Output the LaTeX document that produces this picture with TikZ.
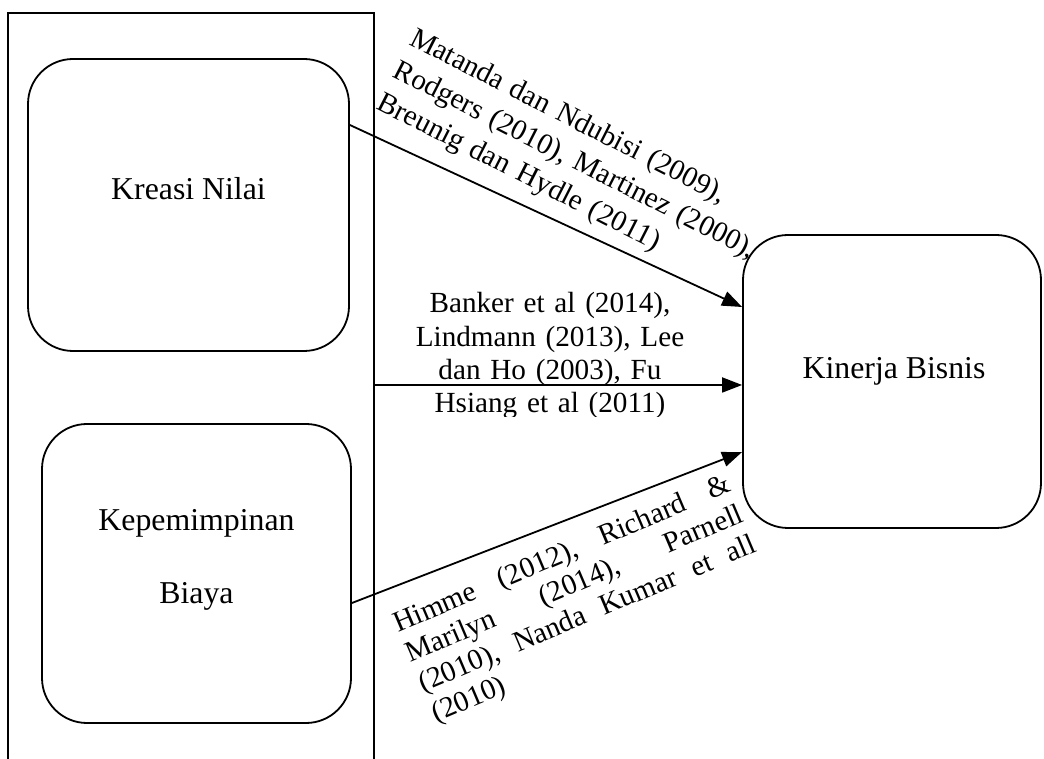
\documentclass[tikz,border=0pt]{standalone}
\usepackage{fontspec}
\setmainfont{Liberation Serif}
\usetikzlibrary{arrows.meta}
\begin{document}
\begin{tikzpicture}[x=1pt,y=1pt,
  frame/.style={draw, line width=1.8pt, inner sep=0pt},
  rbox/.style={draw, line width=1.8pt, rounded corners=45pt, inner sep=0pt},
  boxtext/.style={font=\fontsize{31.8pt}{38pt}\selectfont, inner sep=0pt},
  cite/.style={font=\fontsize{29.2pt}{33.3pt}\selectfont, inner sep=0pt},
  link/.style={line width=1.8pt, -{Triangle[length=20pt,width=15pt]}}]
\clip (0,0) rectangle (1044,758);
\fill[white] (0,0) rectangle (1044,758);
% frame and boxes
\node[frame, minimum width=366pt, minimum height=757pt] (group) at (191,366.5) {};
\node[rbox, minimum width=321pt, minimum height=292pt] (box1) at (188.5,553) {};
\node[rbox, minimum width=309pt, minimum height=299pt] (box2) at (196.5,184.5) {};
\node[rbox, minimum width=298pt, minimum height=293pt] (box3) at (892,376.5) {};
% box texts
\node[boxtext, anchor=base] (t1) at (188.5,558) {Kreasi Nilai};
\node[boxtext, anchor=base, text width=300pt, align=center,
      font=\fontsize{31.8pt}{73pt}\selectfont] (t2) at (196.5,227) {Kepemimpinan\\Biaya};
\node[boxtext, anchor=base] (t3) at (894,379) {Kinerja Bisnis};
% connectors
\draw[link] ([yshift=80pt]box1.east) -- ([yshift=74.5pt]box3.west);
\draw[link] ([yshift=6.5pt]group.east) -- ([yshift=-3.5pt]box3.west);
\draw[link] ([yshift=-29.5pt]box2.east) -- ([yshift=-70.5pt]box3.west);
% citation labels
\node[cite, text width=430pt, align=left, anchor=base west, rotate=-27,
      font=\fontsize{29.2pt}{36pt}\selectfont] (c1) at (408,714)
  {Matanda dan Ndubisi (2009),\\Rodgers (2010), Martinez (2000),\\Breunig dan Hydle (2011)};
\begin{scope}
\clip (380,341) rectangle (740,470);
\node[cite, text width=270pt, align=center, anchor=base] (c2) at (550,445)
  {Banker et al (2014),\\Lindmann (2013), Lee\\dan Ho (2003), Fu\\Hsiang et al (2011)};
\end{scope}
\node[cite, text width=363pt, align=left, anchor=base west, rotate=23,
      font=\fontsize{29.2pt}{32.5pt}\selectfont] (c3) at (398,125)
  {Himme\hfill(2012),\hfill Richard\hfill\&\\Marilyn\hfill(2014),\hfill Parnell\\(2010),\hfill Nanda\hfill Kumar\hfill et\hfill all\\(2010)};
\end{tikzpicture}
\end{document}
